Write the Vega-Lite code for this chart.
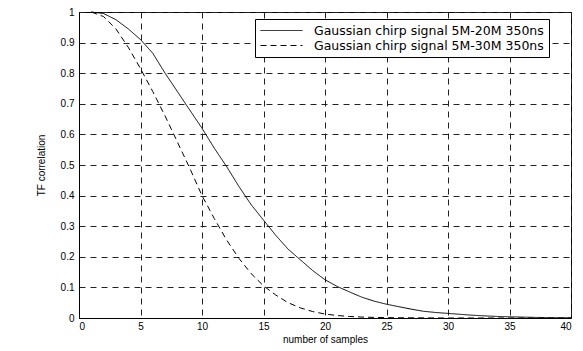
{
  "$schema": "https://vega.github.io/schema/vega-lite/v6.json",
  "width": 492,
  "height": 306,
  "autosize": {"type": "none"},
  "padding": {"left": 79, "top": 12, "right": 12, "bottom": 33},
  "background": "white",
  "config": {
    "view": {"stroke": "black", "strokeWidth": 1},
    "font": "Liberation Sans",
    "axis": {
      "labelFont": "Liberation Sans",
      "labelFontSize": 10,
      "labelColor": "black",
      "titleFont": "Liberation Sans",
      "titleFontSize": 10,
      "titleFontWeight": "normal",
      "titleColor": "black",
      "domainColor": "black",
      "ticks": false,
      "grid": true,
      "gridColor": "#222",
      "gridDash": [6, 5],
      "gridOpacity": 1,
      "gridWidth": 1
    }
  },
  "data": {
    "values": [
      {"s": "Gaussian chirp signal 5M-20M 350ns", "x": 1, "y": 1.0},
      {"s": "Gaussian chirp signal 5M-20M 350ns", "x": 2, "y": 0.995},
      {"s": "Gaussian chirp signal 5M-20M 350ns", "x": 3, "y": 0.975},
      {"s": "Gaussian chirp signal 5M-20M 350ns", "x": 4, "y": 0.945},
      {"s": "Gaussian chirp signal 5M-20M 350ns", "x": 5, "y": 0.91},
      {"s": "Gaussian chirp signal 5M-20M 350ns", "x": 6, "y": 0.865},
      {"s": "Gaussian chirp signal 5M-20M 350ns", "x": 7, "y": 0.80},
      {"s": "Gaussian chirp signal 5M-20M 350ns", "x": 8, "y": 0.74},
      {"s": "Gaussian chirp signal 5M-20M 350ns", "x": 9, "y": 0.68},
      {"s": "Gaussian chirp signal 5M-20M 350ns", "x": 10, "y": 0.62},
      {"s": "Gaussian chirp signal 5M-20M 350ns", "x": 11, "y": 0.555},
      {"s": "Gaussian chirp signal 5M-20M 350ns", "x": 12, "y": 0.495},
      {"s": "Gaussian chirp signal 5M-20M 350ns", "x": 13, "y": 0.43},
      {"s": "Gaussian chirp signal 5M-20M 350ns", "x": 14, "y": 0.37},
      {"s": "Gaussian chirp signal 5M-20M 350ns", "x": 15, "y": 0.32},
      {"s": "Gaussian chirp signal 5M-20M 350ns", "x": 16, "y": 0.27},
      {"s": "Gaussian chirp signal 5M-20M 350ns", "x": 17, "y": 0.225},
      {"s": "Gaussian chirp signal 5M-20M 350ns", "x": 18, "y": 0.19},
      {"s": "Gaussian chirp signal 5M-20M 350ns", "x": 19, "y": 0.155},
      {"s": "Gaussian chirp signal 5M-20M 350ns", "x": 20, "y": 0.125},
      {"s": "Gaussian chirp signal 5M-20M 350ns", "x": 21, "y": 0.103},
      {"s": "Gaussian chirp signal 5M-20M 350ns", "x": 22, "y": 0.085},
      {"s": "Gaussian chirp signal 5M-20M 350ns", "x": 23, "y": 0.068},
      {"s": "Gaussian chirp signal 5M-20M 350ns", "x": 24, "y": 0.055},
      {"s": "Gaussian chirp signal 5M-20M 350ns", "x": 25, "y": 0.045},
      {"s": "Gaussian chirp signal 5M-20M 350ns", "x": 26, "y": 0.037},
      {"s": "Gaussian chirp signal 5M-20M 350ns", "x": 27, "y": 0.029},
      {"s": "Gaussian chirp signal 5M-20M 350ns", "x": 28, "y": 0.022},
      {"s": "Gaussian chirp signal 5M-20M 350ns", "x": 29, "y": 0.018},
      {"s": "Gaussian chirp signal 5M-20M 350ns", "x": 30, "y": 0.015},
      {"s": "Gaussian chirp signal 5M-20M 350ns", "x": 31, "y": 0.012},
      {"s": "Gaussian chirp signal 5M-20M 350ns", "x": 32, "y": 0.009},
      {"s": "Gaussian chirp signal 5M-20M 350ns", "x": 33, "y": 0.007},
      {"s": "Gaussian chirp signal 5M-20M 350ns", "x": 34, "y": 0.005},
      {"s": "Gaussian chirp signal 5M-20M 350ns", "x": 35, "y": 0.004},
      {"s": "Gaussian chirp signal 5M-20M 350ns", "x": 36, "y": 0.003},
      {"s": "Gaussian chirp signal 5M-20M 350ns", "x": 37, "y": 0.002},
      {"s": "Gaussian chirp signal 5M-20M 350ns", "x": 38, "y": 0.0015},
      {"s": "Gaussian chirp signal 5M-20M 350ns", "x": 39, "y": 0.001},
      {"s": "Gaussian chirp signal 5M-20M 350ns", "x": 40, "y": 0.001},
      {"s": "Gaussian chirp signal 5M-30M 350ns", "x": 1, "y": 1.0},
      {"s": "Gaussian chirp signal 5M-30M 350ns", "x": 2, "y": 0.985},
      {"s": "Gaussian chirp signal 5M-30M 350ns", "x": 3, "y": 0.945},
      {"s": "Gaussian chirp signal 5M-30M 350ns", "x": 4, "y": 0.885},
      {"s": "Gaussian chirp signal 5M-30M 350ns", "x": 5, "y": 0.815},
      {"s": "Gaussian chirp signal 5M-30M 350ns", "x": 6, "y": 0.74},
      {"s": "Gaussian chirp signal 5M-30M 350ns", "x": 7, "y": 0.66},
      {"s": "Gaussian chirp signal 5M-30M 350ns", "x": 8, "y": 0.575},
      {"s": "Gaussian chirp signal 5M-30M 350ns", "x": 9, "y": 0.49},
      {"s": "Gaussian chirp signal 5M-30M 350ns", "x": 10, "y": 0.40},
      {"s": "Gaussian chirp signal 5M-30M 350ns", "x": 11, "y": 0.325},
      {"s": "Gaussian chirp signal 5M-30M 350ns", "x": 12, "y": 0.255},
      {"s": "Gaussian chirp signal 5M-30M 350ns", "x": 13, "y": 0.195},
      {"s": "Gaussian chirp signal 5M-30M 350ns", "x": 14, "y": 0.145},
      {"s": "Gaussian chirp signal 5M-30M 350ns", "x": 15, "y": 0.105},
      {"s": "Gaussian chirp signal 5M-30M 350ns", "x": 16, "y": 0.075},
      {"s": "Gaussian chirp signal 5M-30M 350ns", "x": 17, "y": 0.05},
      {"s": "Gaussian chirp signal 5M-30M 350ns", "x": 18, "y": 0.033},
      {"s": "Gaussian chirp signal 5M-30M 350ns", "x": 19, "y": 0.021},
      {"s": "Gaussian chirp signal 5M-30M 350ns", "x": 20, "y": 0.013},
      {"s": "Gaussian chirp signal 5M-30M 350ns", "x": 21, "y": 0.008},
      {"s": "Gaussian chirp signal 5M-30M 350ns", "x": 22, "y": 0.005},
      {"s": "Gaussian chirp signal 5M-30M 350ns", "x": 23, "y": 0.003},
      {"s": "Gaussian chirp signal 5M-30M 350ns", "x": 24, "y": 0.002},
      {"s": "Gaussian chirp signal 5M-30M 350ns", "x": 25, "y": 0.001},
      {"s": "Gaussian chirp signal 5M-30M 350ns", "x": 30, "y": 0.0},
      {"s": "Gaussian chirp signal 5M-30M 350ns", "x": 35, "y": 0.0},
      {"s": "Gaussian chirp signal 5M-30M 350ns", "x": 40, "y": 0.0}
    ]
  },
  "mark": {"type": "line", "color": "black", "strokeWidth": 1},
  "encoding": {
    "x": {
      "field": "x", "type": "quantitative",
      "scale": {"domain": [0, 40], "nice": false},
      "axis": {"values": [0, 5, 10, 15, 20, 25, 30, 35, 40], "title": "number of samples", "labelPadding": 3, "titlePadding": 3}
    },
    "y": {
      "field": "y", "type": "quantitative",
      "scale": {"domain": [0, 1], "nice": false},
      "axis": {"values": [0, 0.1, 0.2, 0.3, 0.4, 0.5, 0.6, 0.7, 0.8, 0.9, 1], "format": ".1~f", "title": "TF correlation", "labelPadding": 5, "titlePadding": 14}
    },
    "strokeDash": {
      "field": "s", "type": "nominal",
      "scale": {
        "domain": ["Gaussian chirp signal 5M-20M 350ns", "Gaussian chirp signal 5M-30M 350ns"],
        "range": [[1, 0], [6, 4]]
      },
      "legend": {
        "title": null,
        "orient": "none",
        "legendX": 176,
        "legendY": 7,
        "direction": "vertical",
        "strokeColor": "black",
        "fillColor": "white",
        "padding": 5,
        "symbolType": "stroke",
        "symbolSize": 1764,
        "clipHeight": 13,
        "symbolStrokeColor": "black",
        "symbolStrokeWidth": 1,
        "labelFont": "DejaVu Sans",
        "labelFontSize": 12.5,
        "labelLimit": 400,
        "labelColor": "black",
        "rowPadding": 2,
        "labelOffset": 11
      }
    }
  }
}
